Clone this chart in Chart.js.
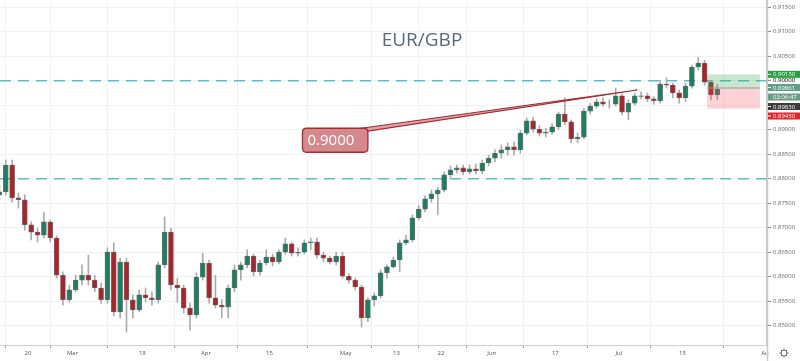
<!DOCTYPE html>
<html><head><meta charset="utf-8">
<script src="https://cdn.jsdelivr.net/npm/chart.js@4.4.1/dist/chart.umd.min.js"></script>
<style>html,body{margin:0;padding:0;background:#fff;}canvas{display:block;}</style>
</head><body>
<canvas id="c" width="800" height="361"></canvas>
<script>
// ---- data (daily OHLC, EUR/GBP) ----
const firstDay = -5; // trading-day index of first candle (0 = 20 Feb)
const open  = [0.8767,0.8773,0.8828,0.8761,0.8757,0.8706,0.8691,0.8685,0.8712,0.8679,0.8603,0.8553,0.8573,0.8593,0.8603,0.8593,0.8577,0.8553,0.8650,0.8528,0.8630,0.8553,0.8532,0.8563,0.8557,0.8553,0.8624,0.8691,0.8583,0.8577,0.8536,0.8522,0.8599,0.8628,0.8557,0.8542,0.8538,0.8577,0.8614,0.8624,0.8642,0.8610,0.8628,0.8640,0.8630,0.8650,0.8667,0.8648,0.8650,0.8669,0.8671,0.8644,0.8638,0.8630,0.8642,0.8601,0.8593,0.8579,0.8516,0.8553,0.8561,0.8608,0.8620,0.8634,0.8669,0.8675,0.8720,0.8738,0.8759,0.8769,0.8777,0.8808,0.8818,0.8822,0.8814,0.8820,0.8816,0.8832,0.8842,0.8852,0.8859,0.8865,0.8859,0.8893,0.8918,0.8901,0.8893,0.8895,0.8906,0.8932,0.8916,0.8881,0.8885,0.8938,0.8948,0.8957,0.8952,0.8952,0.8969,0.8936,0.8954,0.8969,0.8969,0.8963,0.8959,0.8993,0.8991,0.8975,0.8965,0.8989,0.9028,0.9036,0.8997,0.8971];
const high  = [0.8787,0.8838,0.8838,0.8771,0.8767,0.8712,0.8699,0.8732,0.8716,0.8683,0.8610,0.8583,0.8603,0.8624,0.8644,0.8603,0.8587,0.8659,0.8669,0.8638,0.8638,0.8563,0.8573,0.8577,0.8569,0.8630,0.8722,0.8699,0.8597,0.8583,0.8546,0.8608,0.8648,0.8634,0.8603,0.8553,0.8583,0.8624,0.8630,0.8655,0.8646,0.8634,0.8655,0.8646,0.8655,0.8679,0.8671,0.8659,0.8675,0.8679,0.8679,0.8650,0.8642,0.8650,0.8650,0.8606,0.8597,0.8583,0.8557,0.8567,0.8614,0.8624,0.8640,0.8675,0.8685,0.8726,0.8746,0.8765,0.8777,0.8783,0.8814,0.8826,0.8828,0.8828,0.8828,0.8830,0.8838,0.8848,0.8859,0.8869,0.8873,0.8875,0.8899,0.8924,0.8926,0.8908,0.8903,0.8912,0.8936,0.8965,0.8920,0.8893,0.8944,0.8954,0.8963,0.8965,0.8961,0.8985,0.8973,0.8961,0.8975,0.8977,0.8975,0.8967,0.9001,0.9006,0.8995,0.8981,0.8995,0.9032,0.9048,0.9042,0.9001,0.8993];
const low   = [0.8757,0.8767,0.8752,0.8740,0.8695,0.8675,0.8671,0.8679,0.8671,0.8597,0.8542,0.8548,0.8569,0.8583,0.8583,0.8569,0.8546,0.8546,0.8520,0.8516,0.8487,0.8516,0.8528,0.8548,0.8542,0.8546,0.8618,0.8573,0.8548,0.8526,0.8491,0.8516,0.8593,0.8546,0.8536,0.8516,0.8516,0.8569,0.8593,0.8618,0.8601,0.8603,0.8624,0.8622,0.8626,0.8646,0.8642,0.8642,0.8646,0.8655,0.8638,0.8630,0.8626,0.8624,0.8597,0.8587,0.8573,0.8497,0.8508,0.8540,0.8557,0.8597,0.8618,0.8610,0.8665,0.8671,0.8716,0.8732,0.8752,0.8726,0.8773,0.8803,0.8812,0.8808,0.8810,0.8810,0.8810,0.8826,0.8834,0.8842,0.8848,0.8848,0.8852,0.8889,0.8895,0.8887,0.8885,0.8891,0.8901,0.8910,0.8873,0.8873,0.8881,0.8932,0.8944,0.8948,0.8944,0.8948,0.8930,0.8920,0.8950,0.8963,0.8957,0.8952,0.8954,0.8985,0.8965,0.8954,0.8957,0.8985,0.9022,0.8991,0.8961,0.8961];
const close = [0.8773,0.8828,0.8761,0.8757,0.8706,0.8691,0.8685,0.8712,0.8679,0.8603,0.8553,0.8573,0.8593,0.8603,0.8593,0.8577,0.8553,0.8650,0.8528,0.8630,0.8553,0.8532,0.8563,0.8557,0.8553,0.8624,0.8691,0.8583,0.8577,0.8536,0.8522,0.8599,0.8628,0.8557,0.8542,0.8538,0.8577,0.8614,0.8624,0.8642,0.8610,0.8628,0.8640,0.8630,0.8650,0.8667,0.8648,0.8650,0.8669,0.8671,0.8644,0.8638,0.8630,0.8642,0.8601,0.8593,0.8579,0.8516,0.8553,0.8561,0.8608,0.8620,0.8634,0.8669,0.8675,0.8720,0.8738,0.8759,0.8769,0.8777,0.8808,0.8818,0.8822,0.8814,0.8820,0.8816,0.8832,0.8842,0.8852,0.8859,0.8865,0.8859,0.8893,0.8918,0.8901,0.8893,0.8895,0.8906,0.8932,0.8916,0.8881,0.8885,0.8938,0.8948,0.8957,0.8952,0.8952,0.8969,0.8936,0.8954,0.8969,0.8968,0.8963,0.8959,0.8993,0.8991,0.8975,0.8965,0.8989,0.9028,0.9036,0.8997,0.8971,0.8983];

const tickDays   = [0, 7, 18, 28, 38, 50, 58, 65, 73, 83, 93, 103, 116];
const tickLabels = ['20','Mar','18','Apr','15','May','13','22','Jun','17','Jul','15','Au'];
const yTicks = [0.850,0.855,0.860,0.865,0.870,0.875,0.880,0.885,0.890,0.895,0.900,0.905,0.910,0.915];
const levelLines = [0.9000, 0.8800];
const titleText = 'EUR/GBP';
const position = {start: 106.9, end: 115.2, target: 0.90130, entry: 0.89861, stop: 0.89430};
const lastPrice = 0.89830;
const timerText = '02:06:47';
const callout = {text: '0.9000', x0: 43.2, x1: 53.5, yTop: 0.8903, yBottom: 0.8854,
                 baseAX: 52.4, baseBY: 0.8897, tipX: 95.9, tipY: 0.8981};
const xRange = [-4.41, 116.32];
const yRange = [0.84606, 0.91647];

// ---- styles ----
const UP = '#1f7d62', DOWN = '#a8262b', WICK = '#ababab';
const FONT = "'Open Sans', 'DejaVu Sans', sans-serif";

const candleX = open.map((_, i) => firstDay + i + 0.5);
const wickData = candleX.map((x, i) => ({x, y: [low[i], high[i]]}));
const bodyData = candleX.map((x, i) => ({x, y: [open[i], close[i]]}));

const overlay = {
  id: 'overlay',
  beforeDatasetsDraw(chart) {
    const {ctx, chartArea: a} = chart;
    ctx.save();
    ctx.beginPath(); ctx.rect(a.left, a.top, a.right - a.left, a.bottom - a.top); ctx.clip();
    ctx.fillStyle = '#566a7c';
    ctx.font = "19px " + FONT;
    ctx.textAlign = 'center'; ctx.textBaseline = 'middle';
    ctx.fillText(titleText, 422, 41);
    ctx.restore();
  },
  afterDatasetsDraw(chart) {
    const {ctx, chartArea: a} = chart;
    const xs = chart.scales.x, ys = chart.scales.y;
    const X = v => xs.getPixelForValue(v), Y = v => ys.getPixelForValue(v);
    ctx.save();
    ctx.beginPath(); ctx.rect(a.left, a.top, a.right - a.left, a.bottom - a.top); ctx.clip();
    const x0 = X(position.start), x1 = X(position.end);
    ctx.fillStyle = 'rgba(60,170,80,0.28)';
    ctx.fillRect(x0, Y(position.target), x1 - x0, Y(position.entry) - Y(position.target));
    ctx.fillStyle = 'rgba(240,80,90,0.25)';
    ctx.fillRect(x0, Y(position.entry), x1 - x0, Y(position.stop) - Y(position.entry));
    ctx.strokeStyle = '#8a9a90'; ctx.lineWidth = 1;
    ctx.beginPath(); ctx.moveTo(x0, Y(position.entry) + 0.5); ctx.lineTo(x1, Y(position.entry) + 0.5); ctx.stroke();

    const bx0 = X(callout.x0), bx1 = X(callout.x1), by0 = Y(callout.yTop), by1 = Y(callout.yBottom);
    ctx.beginPath();
    ctx.moveTo(X(callout.baseAX), by0);
    ctx.lineTo(X(callout.tipX), Y(callout.tipY));
    ctx.lineTo(bx1, Y(callout.baseBY));
    ctx.closePath();
    ctx.fillStyle = '#dba3a6'; ctx.fill();
    ctx.strokeStyle = '#a52a31'; ctx.lineWidth = 1.2; ctx.stroke();
    const r = 4;
    ctx.beginPath();
    ctx.moveTo(bx0 + r, by0); ctx.lineTo(bx1 - r, by0); ctx.quadraticCurveTo(bx1, by0, bx1, by0 + r);
    ctx.lineTo(bx1, by1 - r); ctx.quadraticCurveTo(bx1, by1, bx1 - r, by1);
    ctx.lineTo(bx0 + r, by1); ctx.quadraticCurveTo(bx0, by1, bx0, by1 - r);
    ctx.lineTo(bx0, by0 + r); ctx.quadraticCurveTo(bx0, by0, bx0 + r, by0);
    ctx.closePath();
    ctx.fillStyle = '#d4898d'; ctx.fill();
    ctx.strokeStyle = '#a52a31'; ctx.lineWidth = 1.3; ctx.stroke();
    ctx.fillStyle = '#ffffff';
    ctx.font = "15px " + FONT; ctx.textAlign = 'left'; ctx.textBaseline = 'middle';
    ctx.fillText(callout.text, bx0 + 5, (by0 + by1) / 2 + 0.5);
    ctx.restore();
  },
  afterDraw(chart) {
    const {ctx, chartArea: a} = chart;
    const ys = chart.scales.y;
    const Y = v => ys.getPixelForValue(v);
    ctx.save();
    ctx.strokeStyle = '#c9c9c9'; ctx.lineWidth = 1.5;
    ctx.beginPath(); ctx.moveTo(a.right + 0.5, 0); ctx.lineTo(a.right + 0.5, 361); ctx.stroke();
    ctx.font = "6px " + FONT; ctx.textBaseline = 'middle'; ctx.textAlign = 'left';
    ctx.fillStyle = '#555'; ctx.fillText('0.90000', 773, Y(0.9));
    const labels = [
      {y: Y(position.target), text: position.target.toFixed(5), bg: '#27a03f'},
      {y: Y(position.entry), text: position.entry.toFixed(5), bg: '#5f9f86'},
      {y: Y(position.entry), text: timerText, bg: '#6b9c88', timer: true},
      {y: Y(lastPrice), text: lastPrice.toFixed(5), bg: '#3c3c3c'},
      {y: Y(position.stop), text: position.stop.toFixed(5), bg: '#e4252b'}
    ];
    const H = 7, GAP = 9.5;
    let prev = -100;
    labels.forEach(l => {
      const cy = Math.max(l.y, prev + GAP);
      prev = cy;
      ctx.fillStyle = l.bg;
      ctx.fillRect(a.right + 1, cy - H / 2, 800 - a.right - 1, H);
      ctx.fillStyle = '#fff';
      if (!l.timer) ctx.fillRect(a.right + 1, cy - 0.5, 3, 1);
      ctx.fillText(l.text, 773, cy + 0.3);
    });
    const gx = 784, gy = 353;
    ctx.strokeStyle = '#6d6d6d'; ctx.lineWidth = 1;
    ctx.beginPath(); ctx.arc(gx, gy, 3, 0, Math.PI * 2); ctx.stroke();
    for (let k = 0; k < 8; k++) {
      const ang = k * Math.PI / 4;
      ctx.beginPath();
      ctx.moveTo(gx + Math.cos(ang) * 3, gy + Math.sin(ang) * 3);
      ctx.lineTo(gx + Math.cos(ang) * 4.6, gy + Math.sin(ang) * 4.6);
      ctx.stroke();
    }
    ctx.restore();
  }
};

const levelDatasets = levelLines.map(v => ({
  type: 'line',
  data: [{x: xRange[0], y: v}, {x: xRange[1], y: v}],
  borderColor: '#5cbccc', borderWidth: 1.6, borderDash: [11, 7],
  pointRadius: 0, order: 3
}));

new Chart(document.getElementById('c'), {
  type: 'bar',
  data: {
    datasets: [
      ...levelDatasets,
      {type: 'bar', data: wickData, backgroundColor: WICK, barThickness: 1, grouped: false, order: 2},
      {type: 'bar', data: bodyData, grouped: false, barThickness: 5, order: 1,
       borderWidth: 0.8, borderColor: 'rgba(30,30,30,0.6)', borderSkipped: false,
       backgroundColor: c => (close[c.dataIndex] >= open[c.dataIndex] ? UP : DOWN)}
    ]
  },
  plugins: [overlay],
  options: {
    responsive: false, animation: false, devicePixelRatio: 1,
    layout: {padding: 0},
    plugins: {legend: {display: false}, tooltip: {enabled: false}, title: {display: false}},
    scales: {
      x: {
        type: 'linear', min: xRange[0], max: xRange[1], offset: false,
        afterBuildTicks: s => { s.ticks = tickDays.map(v => ({value: v})); },
        afterFit: s => { s.height = 16; s.paddingLeft = 0; s.paddingRight = 0; },
        ticks: {autoSkip: false, maxRotation: 0, padding: 2, color: '#555',
                font: {size: 6, family: FONT},
                callback: v => tickLabels[tickDays.indexOf(v)] ?? ''},
        grid: {color: '#eff1f4', tickLength: 3, tickColor: '#999', lineWidth: 1},
        border: {display: true, color: '#cfcfcf', width: 1}
      },
      y: {
        type: 'linear', position: 'right', min: yRange[0], max: yRange[1],
        afterBuildTicks: s => { s.ticks = yTicks.map(v => ({value: v})); },
        afterFit: s => { s.width = 33; s.paddingTop = 0; s.paddingBottom = 0; },
        ticks: {autoSkip: false, padding: 2, color: '#666', font: {size: 6, family: FONT},
                callback: v => v.toFixed(5)},
        grid: {color: '#eff1f4', tickLength: 4, tickColor: '#888', lineWidth: 1},
        border: {display: true, color: '#c9c9c9', width: 1.5}
      }
    }
  }
});
</script>
</body></html>
